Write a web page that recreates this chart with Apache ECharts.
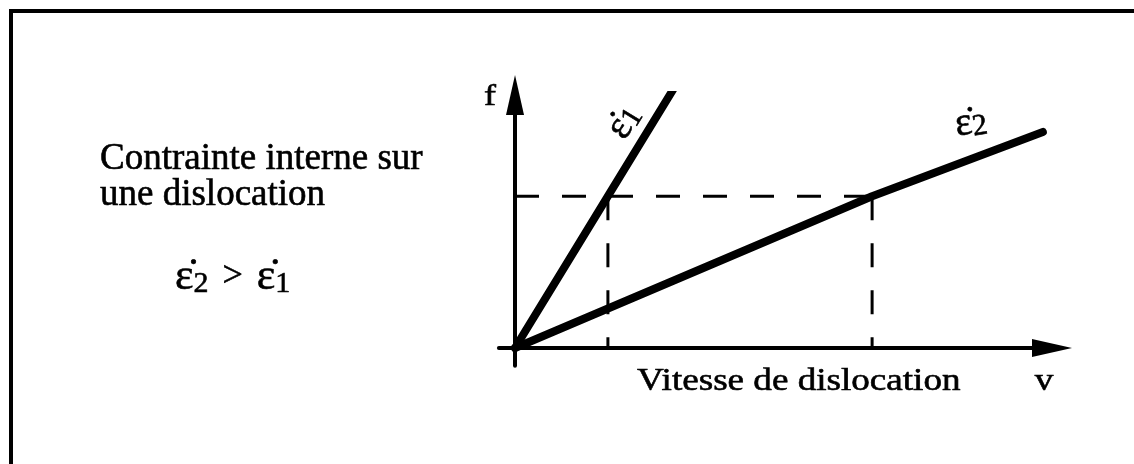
<!DOCTYPE html>
<html>
<head>
<meta charset="utf-8">
<title>Contrainte interne sur une dislocation</title>
<script src="https://cdn.jsdelivr.net/npm/echarts@6/dist/echarts.min.js"></script>
<style>
html, body { margin: 0; padding: 0; background: #fff; }
#chart { width: 1134px; height: 464px; }
</style>
</head>
<body>
<div id="chart"></div>
<script>
// vitesse v et contrainte f (unites arbitraires)
let eps1V = [0, 1.73, 2.94];
let eps1F = [0, 6, 10.2];
let eps2V = [0, 6.65, 9.83];
let eps2F = [0, 6, 8.54];
// niveau de contrainte commun et vitesses correspondantes
let niveauF = 6;
let vitesses = [1.73, 6.65];

function points(xs, ys) {
	return xs.map(function (x, i) { return [x, ys[i]]; });
}

let serif = '"Liberation Serif", "Times New Roman", serif';
let noir = '#000';

let myChart = echarts.init(document.getElementById('chart'));

function axe(min) {
	return {
		type: 'value',
		min: min,
		max: 10,
		axisLine: {
			show: true,
			onZero: true,
			symbol: ['none', 'triangle'],
			symbolSize: [18, 40],
			lineStyle: { color: noir, width: 4 }
		},
		axisTick: { show: false },
		axisLabel: { show: false },
		splitLine: { show: false }
	};
}

function tirets(data) {
	return {
		type: 'line',
		data: data,
		symbol: 'none',
		silent: true,
		z: 1,
		lineStyle: { color: noir, width: 3, type: [24, 23] }
	};
}

function droite(name, data) {
	return {
		name: name,
		type: 'line',
		data: data,
		symbol: 'none',
		silent: true,
		z: 3,
		lineStyle: { color: noir, width: 8, cap: 'round' }
	};
}

// style de texte commun (un peu epaissi comme le scan)
function txt(size, extra) {
	return Object.assign({ fontSize: size, fontFamily: serif, fill: noir, stroke: noir, lineWidth: 0.6 }, extra || {});
}

let richEq = {
	e: txt(44, { lineHeight: 44 }),
	s: txt(30, { lineHeight: 20, verticalAlign: 'bottom' }),
	g: txt(36, { lineHeight: 44, padding: [0, 14, 0, 14] })
};
let richLabel = {
	e: txt(40, { lineHeight: 40 }),
	s: txt(30, { lineHeight: 30, verticalAlign: 'bottom' })
};

myChart.setOption({
	backgroundColor: '#fff',
	animation: false,
	grid: { left: 498.9, right: 82, top: 95, bottom: 98.3 },
	xAxis: axe(-0.3),
	yAxis: axe(-0.7),
	series: [
		tirets([[0, niveauF], [vitesses[1], niveauF]]),
		tirets([[vitesses[0], niveauF], [vitesses[0], 0]]),
		tirets([[vitesses[1], niveauF], [vitesses[1], 0]]),
		droite('eps1', points(eps1V, eps1F)),
		droite('eps2', points(eps2V, eps2F))
	],
	graphic: [
		// cadre (haut et gauche)
		{ type: 'line', shape: { x1: 11, y1: 11, x2: 1134, y2: 11 }, style: { stroke: noir, lineWidth: 4 } },
		{ type: 'line', shape: { x1: 11, y1: 9, x2: 11, y2: 464 }, style: { stroke: noir, lineWidth: 4 } },
		{
			type: 'text', x: 100, y: 141,
			style: txt(37, { text: 'Contrainte interne sur\nune dislocation', lineHeight: 36, verticalAlign: 'top' })
		},
		{
			type: 'text', x: 175, y: 277,
			style: { text: '{e|ε\u0307}{s|2}{g|>}{e|ε\u0307}{s|1}', rich: richEq, verticalAlign: 'middle' }
		},
		{
			type: 'text', x: 637, y: 382, scaleX: 1.16,
			style: txt(32, { text: 'Vitesse de dislocation', verticalAlign: 'middle' })
		},
		{
			type: 'text', x: 1044, y: 382, scaleX: 1.16,
			style: txt(32, { text: 'v', align: 'center', verticalAlign: 'middle' })
		},
		{
			type: 'text', x: 490, y: 97, scaleX: 1.2,
			style: txt(30, { text: 'f', align: 'center', verticalAlign: 'middle' })
		},
		{
			type: 'text', x: 624, y: 122, rotation: 1.02,
			style: { text: '{e|ε\u0307}{s|1}', rich: richLabel, align: 'center', verticalAlign: 'middle' }
		},
		{
			type: 'text', x: 971, y: 123, rotation: 0.15,
			style: { text: '{e|ε\u0307}{s|2}', rich: richLabel, align: 'center', verticalAlign: 'middle' }
		}
	]
});
</script>
</body>
</html>
